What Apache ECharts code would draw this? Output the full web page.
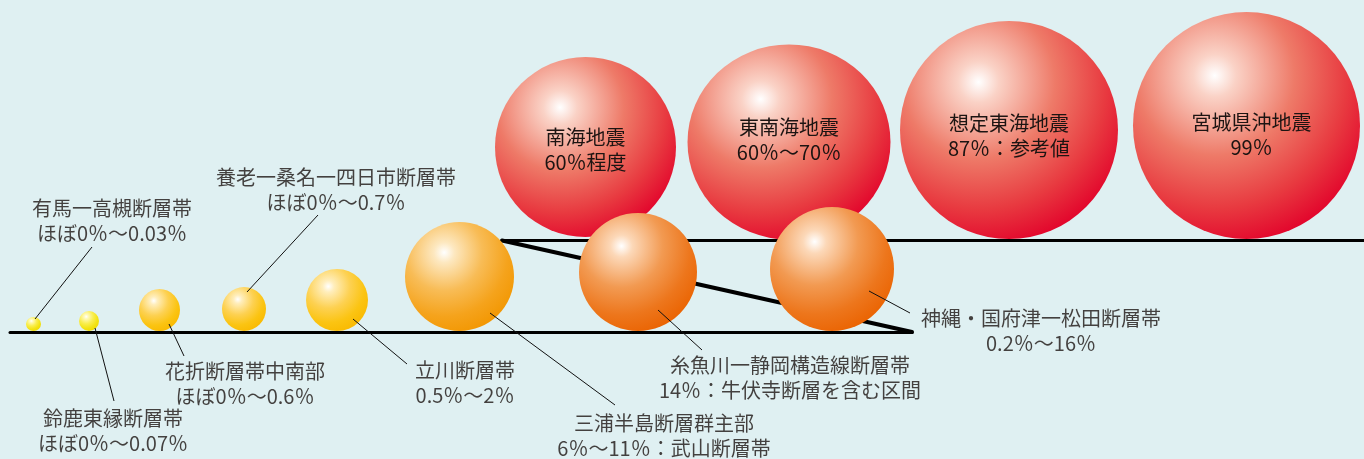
<!DOCTYPE html>
<html>
<head>
<meta charset="utf-8">
<script src="https://cdn.jsdelivr.net/npm/echarts@6/dist/echarts.min.js"></script>
<style>
  html, body { margin: 0; padding: 0; background: #dff0f2; }
  #chart { width: 1364px; height: 459px; }
</style>
</head>
<body>
<div id="chart"></div>
<script>
// 断層帯・海溝型地震の発生確率（名称と確率の表記）
const faultNames = [
  "有馬一高槻断層帯", "鈴鹿東縁断層帯", "花折断層帯中南部", "養老一桑名一四日市断層帯",
  "立川断層帯", "三浦半島断層群主部", "糸魚川一静岡構造線断層帯", "神縄・国府津一松田断層帯"
];
const faultProbs = [
  "ほぼ0％～0.03％", "ほぼ0％～0.07％", "ほぼ0％～0.6％", "ほぼ0％～0.7％",
  "0.5％～2％", "6％～11％：武山断層帯", "14％：牛伏寺断層を含む区間", "0.2％～16％"
];
const quakeNames = ["南海地震", "東南海地震", "想定東海地震", "宮城県沖地震"];
const quakeProbs = ["60％程度", "60％～70％", "87％：参考値", "99％"];

// レイアウト（画面座標, y は上から）
const faultBallPos = [[33.5, 324], [89, 321], [159.5, 310], [244, 309], [337, 300], [459.5, 276.5], [638, 272], [832, 269]];
const faultBallSize = [[15, 14], [20, 20], [41, 42], [44, 44], [62, 62], [109, 109], [118, 118], [124, 124]];
const faultTone = ["lemon", "lemon", "gold", "gold", "gold", "amber", "orange", "orange"];
const faultLabelPos = [[112, 220.5], [113, 430.5], [245, 383.5], [336, 189.5], [465, 382.5], [664, 436], [790, 377.5], [1041, 330.5]];
const leaderLines = [
  [[92, 247], [35, 319]], [[95, 328], [114, 401]], [[169, 324], [184, 356]], [[318, 215], [247, 292]],
  [[353, 319], [407, 364]], [[490, 313], [615, 405]], [[658, 310], [702, 350]], [[869, 291], [910, 313]]
];
const quakeBallPos = [[585.5, 147], [789, 142], [1009, 130], [1246.5, 125.5]];
const quakeBallSize = [[181, 180], [203, 195], [218, 218], [227, 227]];
const quakeLabelShift = [[0, 3], [0, -2], [0, 6], [5, 9]];
const baseLines = [
  { coords: [[10, 332], [912, 332]], width: 3 },
  { coords: [[502, 240.5], [1364, 240.5]], width: 3 },
  { coords: [[502, 240.5], [912, 332]], width: 4 }
];

const tones = {
  red:    ["#ffffff", "#fad2c6", "#ee7a68", "#e83a40", "#e2002a"],
  orange: ["#ffffff", "#fcd8b8", "#f29a52", "#ed761c", "#ea6200"],
  amber:  ["#ffffff", "#fde8c0", "#f8bc56", "#f5a31c", "#f29600"],
  gold:   ["#ffffff", "#ffeebc", "#fdd152", "#fbc412", "#f9b900"],
  lemon:  ["#ffffff", "#fffac0", "#f9ee50", "#f3e314", "#eed900"]
};
const stopAt = [0, 0.12, 0.45, 0.75, 1];
function ball(tone) {
  return new echarts.graphic.RadialGradient(0.36, 0.28, 0.78,
    tones[tone].map((c, i) => ({ offset: stopAt[i], color: c })));
}

const fontFamily = "'Noto Sans CJK JP', sans-serif";
const textStyle = { fontFamily: fontFamily, fontSize: 20, lineHeight: 25, color: "#1c1412" };

const chart = echarts.init(document.getElementById("chart"), null, { renderer: "canvas" });

chart.setOption({
  backgroundColor: "#dff0f2",
  animation: false,
  grid: { left: 0, right: 0, top: 0, bottom: 0 },
  xAxis: { type: "value", min: 0, max: 1364, show: false },
  yAxis: { type: "value", min: 0, max: 459, inverse: true, show: false },
  series: [
    {
      // 基準線
      type: "lines",
      coordinateSystem: "cartesian2d",
      z: 1,
      silent: true,
      data: baseLines.map(l => ({ coords: l.coords, lineStyle: { width: l.width } })),
      lineStyle: { color: "#000", cap: "round", opacity: 1 }
    },
    {
      // 海溝型地震
      type: "scatter",
      z: 2,
      silent: true,
      data: quakeNames.map((n, i) => ({
        name: n,
        value: quakeBallPos[i],
        symbolSize: quakeBallSize[i],
        itemStyle: { color: ball("red"), opacity: 1 },
        label: {
          show: true,
          position: "inside",
          offset: quakeLabelShift[i],
          formatter: n + "\n" + quakeProbs[i],
          ...textStyle
        }
      }))
    },
    {
      // 活断層
      type: "scatter",
      z: 3,
      silent: true,
      data: faultNames.map((n, i) => ({
        name: n,
        value: faultBallPos[i],
        symbolSize: faultBallSize[i],
        itemStyle: { color: ball(faultTone[i]), opacity: 1 }
      }))
    },
    {
      // 引き出し線
      type: "lines",
      coordinateSystem: "cartesian2d",
      z: 4,
      silent: true,
      data: leaderLines.map(c => ({ coords: c })),
      lineStyle: { color: "#111", width: 1, opacity: 1 }
    },
    {
      // 活断層ラベル
      type: "scatter",
      z: 5,
      silent: true,
      symbolSize: 1,
      itemStyle: { color: "rgba(0,0,0,0)" },
      data: faultNames.map((n, i) => ({
        name: n,
        value: faultLabelPos[i],
        label: {
          show: true,
          position: "inside",
          formatter: n + "\n" + faultProbs[i],
          ...textStyle
        }
      }))
    }
  ]
});
</script>
</body>
</html>
